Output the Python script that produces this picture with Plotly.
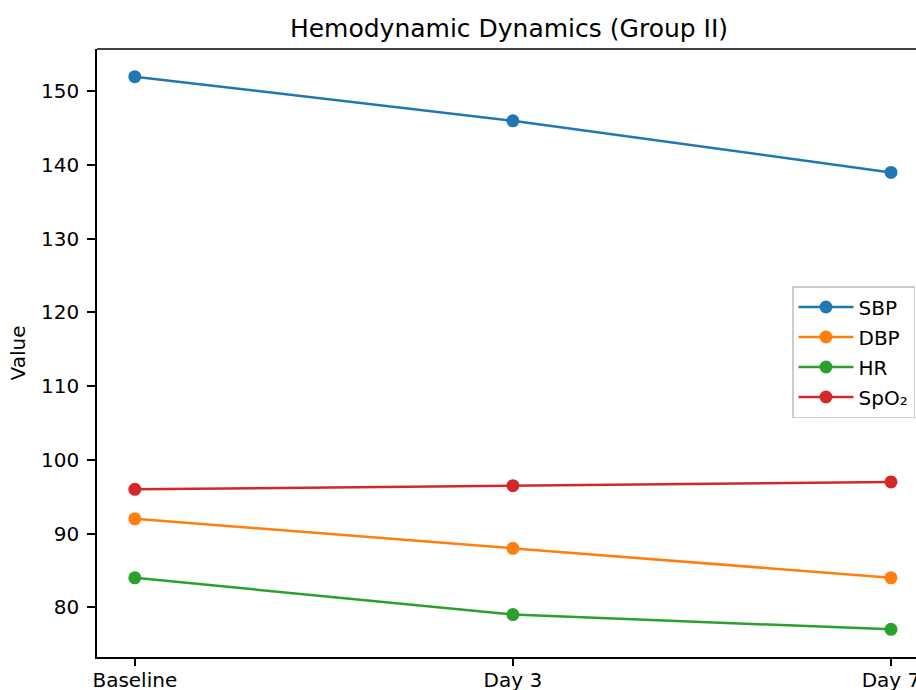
import plotly.graph_objects as go

categories = ["Baseline", "Day 3", "Day 7"]
sbp = [152, 146, 139]
dbp = [92, 88, 84]
hr = [84, 79, 77]
spo2 = [96, 96.5, 97]

series = [("SBP", sbp, "#1f77b4"), ("DBP", dbp, "#ff7f0e"),
          ("HR", hr, "#2ca02c"), ("SpO₂", spo2, "#d62728")]

fig = go.Figure()
xs = list(range(len(categories)))
for i, (name, vals, color) in enumerate(series):
    fig.add_trace(go.Scatter(x=xs, y=vals, name=name, mode="lines+markers",
                             line=dict(color=color, width=2.5),
                             marker=dict(color=color, size=13),
                             legendgroup=f"g{i}"))

font = "DejaVu Sans, Verdana, sans-serif"
fig.update_layout(
    width=916, height=690,
    margin=dict(l=97, r=0, t=49, b=33),
    plot_bgcolor="white", paper_bgcolor="white",
    font=dict(family=font, size=20, color="black"),
    title=dict(text="Hemodynamic Dynamics (Group II)", x=509 / 916, xanchor="center",
               y=1 - 28 / 690, yanchor="middle", font=dict(size=25, family=font, color="black")),
    xaxis=dict(tickmode="array", tickvals=xs, ticktext=categories,
               range=[-0.1, (916 - 135) / 378], showgrid=False, zeroline=False,
               showline=True, linecolor="black", linewidth=1.5,
               ticks="outside", ticklen=7, tickwidth=1.5, tickcolor="black",
               tickfont=dict(size=20), automargin=False, ticklabeloverflow="allow",
               ticklabelstandoff=-3),
    yaxis=dict(range=[73.25, 155.75], tickvals=[80, 90, 100, 110, 120, 130, 140, 150],
               showgrid=False, zeroline=False, showline=True, linecolor="black", linewidth=1.5,
               ticks="outside", ticklen=8, tickwidth=1.5, tickcolor="black",
               tickfont=dict(size=20), automargin=False, ticklabelstandoff=4,
               title=dict(text="Value", font=dict(size=20), standoff=10)),
    legend=dict(x=(792 - 97) / 819, xanchor="left", y=(657 - 352) / 608, yanchor="middle",
                bgcolor="rgba(255,255,255,0.8)", bordercolor="#cccccc", borderwidth=1.5,
                font=dict(size=20), itemwidth=55, tracegroupgap=1),
    showlegend=True,
)
fig.add_shape(type="line", xref="paper", yref="paper", x0=0, x1=1, y0=1, y1=1,
              line=dict(color="black", width=1.5))
fig.write_html("out.html", config={"displayModeBar": False},
               post_script="document.body.style.margin='0';")
